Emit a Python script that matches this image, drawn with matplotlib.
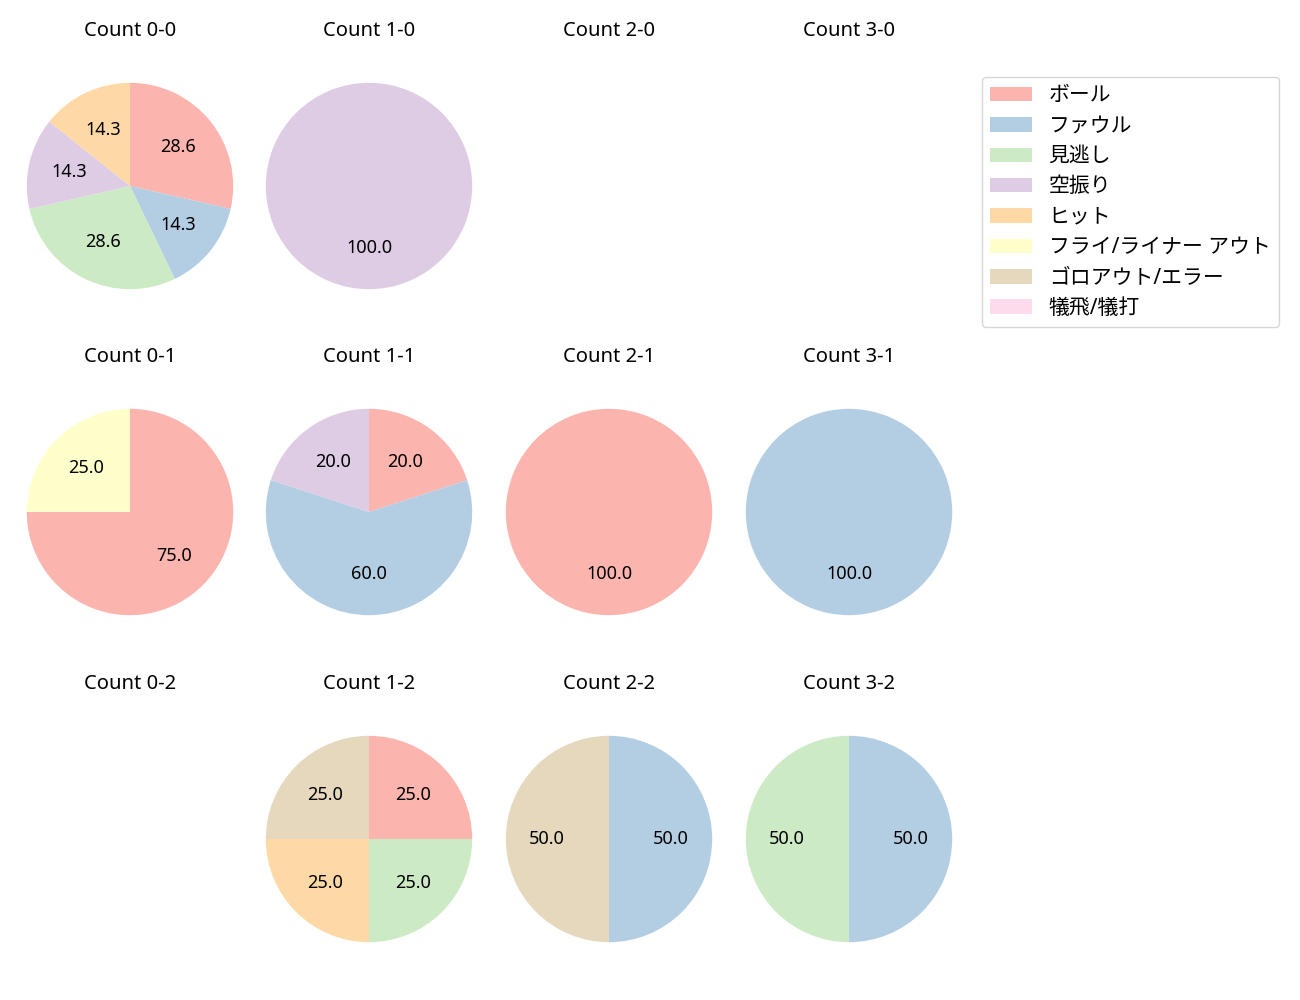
import matplotlib
matplotlib.use("Agg")
import matplotlib.pyplot as plt
from matplotlib.patches import Patch

plt.rcParams['font.family'] = ['Noto Sans', 'Noto Sans CJK JP', 'DejaVu Sans']

categories = ['ボール', 'ファウル', '見逃し', '空振り', 'ヒット',
              'フライ/ライナー アウト', 'ゴロアウト/エラー', '犠飛/犠打']
colors = ['#fbb4ae', '#b3cde3', '#ccebc5', '#decbe4', '#fed9a6',
          '#ffffcc', '#e5d8bd', '#fddaec']

# counts per category for each ball-strike count (order = categories)
counts = {
    '0-0': [2, 1, 2, 1, 1, 0, 0, 0],
    '1-0': [0, 0, 0, 1, 0, 0, 0, 0],
    '2-0': [0, 0, 0, 0, 0, 0, 0, 0],
    '3-0': [0, 0, 0, 0, 0, 0, 0, 0],
    '0-1': [3, 0, 0, 0, 0, 1, 0, 0],
    '1-1': [1, 3, 0, 1, 0, 0, 0, 0],
    '2-1': [1, 0, 0, 0, 0, 0, 0, 0],
    '3-1': [0, 1, 0, 0, 0, 0, 0, 0],
    '0-2': [0, 0, 0, 0, 0, 0, 0, 0],
    '1-2': [1, 0, 1, 0, 1, 0, 1, 0],
    '2-2': [0, 1, 0, 0, 0, 0, 1, 0],
    '3-2': [0, 1, 1, 0, 0, 0, 0, 0],
}

fig = plt.figure(figsize=(13, 10), dpi=100)
W, H = 1300, 1000
size = 258
xs = [130, 369, 609, 849]
ys = [186, 512, 839]

for r in range(3):
    for c in range(4):
        key = f'{c}-{r}'
        cx, cy = xs[c], ys[r]
        ax = fig.add_axes([(cx - size / 2) / W, 1 - (cy + size / 2) / H, size / W, size / H])
        ax.set_title(f'Count {key}', fontsize=14.5, pad=15)
        vals = counts[key]
        if sum(vals) == 0:
            ax.axis('off')
            continue
        v = [x for x in vals if x > 0]
        col = [colors[i] for i, x in enumerate(vals) if x > 0]
        ax.pie(v, colors=col, startangle=90, counterclock=False,
               autopct='%.1f', textprops={'fontsize': 13})
        ax.set_aspect('equal')

handles = [Patch(facecolor=colors[i], label=categories[i]) for i in range(len(categories))]
fig.legend(handles=handles, loc='upper left', bbox_to_anchor=(982 / W, 1 - 77 / H),
           fontsize=15, borderaxespad=0, labelspacing=0.45, handlelength=2.0,
           handletextpad=0.8)

fig.savefig('out.png', dpi=100)
